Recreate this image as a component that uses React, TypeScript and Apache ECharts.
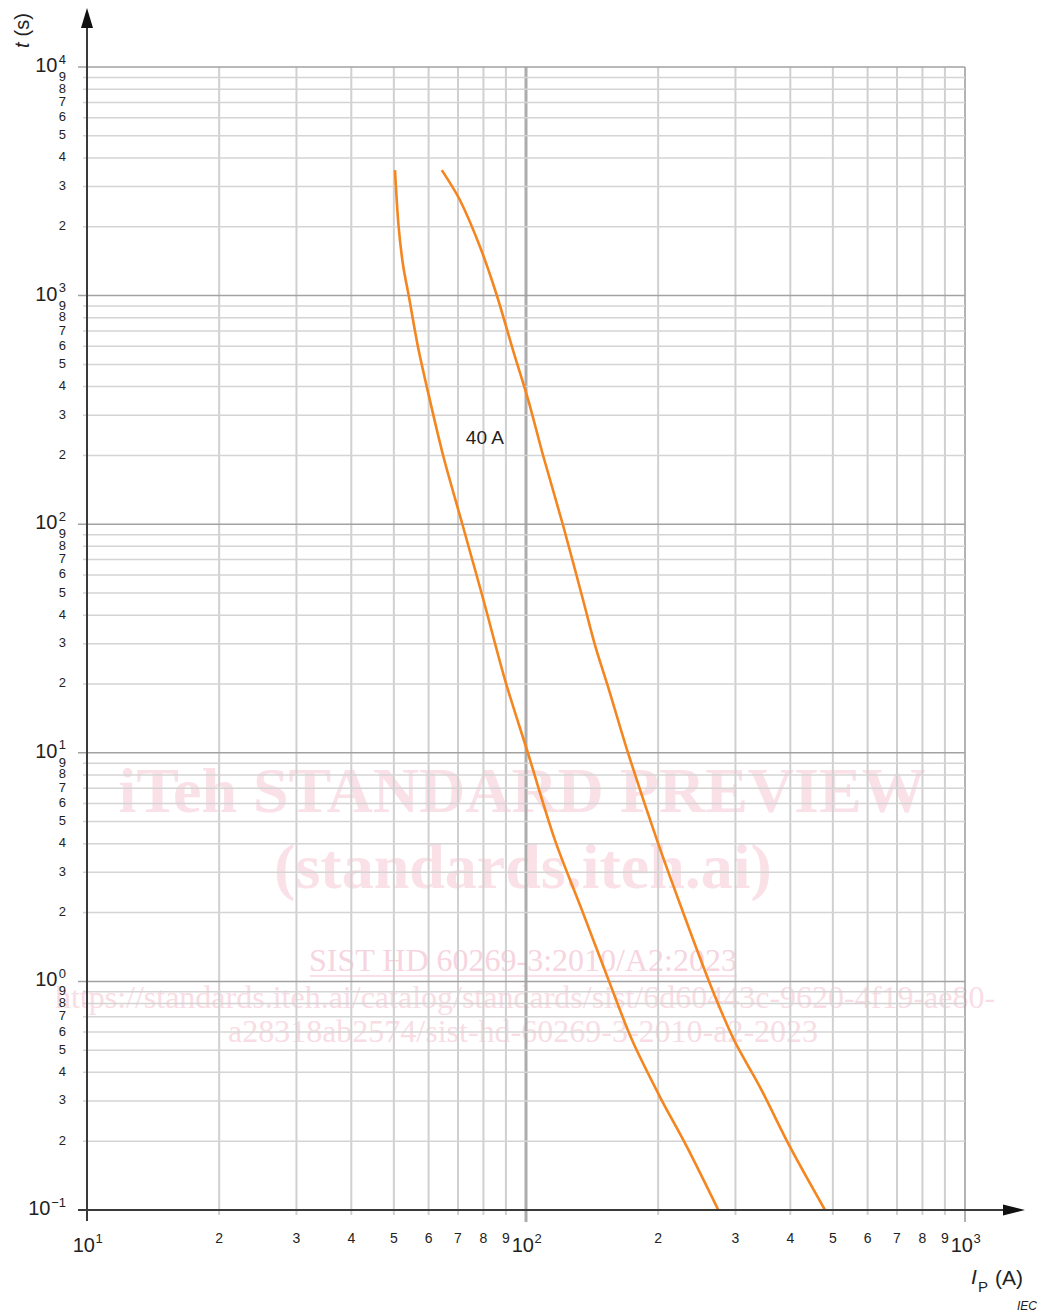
import React, { useEffect, useRef } from 'react';
import * as echarts from 'echarts';

// ---- axis definition ----
const X_DECADE_EXPONENTS = [1, 2, 3];          // 10^1 .. 10^3 A
const Y_DECADE_EXPONENTS = [-1, 0, 1, 2, 3, 4]; // 10^-1 .. 10^4 s
const MINOR_DIGITS = [2, 3, 4, 5, 6, 7, 8, 9];

// ---- curves (prospective current I_P in A, time t in s) ----
const LOWER_I = [50.3, 51.23, 52.47, 54.08, 56.75, 60.4, 64.88, 71.7, 80.0, 89.6, 101.0, 116.4, 134.1, 154.6, 174.4, 202, 232.6, 274.2];
const LOWER_T = [3540, 2036, 1361, 995, 596, 349, 196.8, 99.2, 46.6, 20.8, 9.98, 4.15, 2.05, 1.0, 0.554, 0.312, 0.1887, 0.1];
const UPPER_I = [64.3, 70.7, 78.6, 85.9, 93.4, 101.2, 109.3, 121.4, 134.9, 143.6, 154.6, 170.8, 198.8, 225.5, 261.2, 297.8, 341.2, 399.4, 479.8];
const UPPER_T = [3540, 2619, 1632, 996, 578, 349, 200.8, 99.2, 46.6, 29.6, 18.8, 9.98, 4.15, 2.12, 1.0, 0.554, 0.345, 0.1887, 0.1];

const CURVE_LABEL = '40 A';
const CURVE_LABEL_AT = [80.6, 240];

const Y_TITLE_VAR = 't';
const Y_TITLE_UNIT = '(s)';
const X_TITLE_VAR = 'I';
const X_TITLE_SUB = 'P';
const X_TITLE_UNIT = '(A)';
const SOURCE = 'IEC';

const WATERMARK_TITLE = ['iTeh STANDARD PREVIEW', '(standards.iteh.ai)'];
const WATERMARK_DOC = 'SIST HD 60269-3:2010/A2:2023';
const WATERMARK_URL = [
  'https://standards.iteh.ai/catalog/standards/sist/6d60443c-9620-4f19-ae80-',
  'a28318ab2574/sist-hd-60269-3-2010-a2-2023',
];

const SANS = '"Liberation Sans", Arial, Helvetica, sans-serif';
const SERIF = '"Liberation Serif", "Times New Roman", serif';
const INK = '#222222';

type Tick = { value: number; label: string; major: boolean };

function buildTicks(exps: number[]): Tick[] {
  const out: Tick[] = [];
  exps.forEach((e, k) => {
    const base = Math.pow(10, e);
    out.push({ value: base, label: e < 0 ? '\u2212' + Math.abs(e) : String(e), major: true });
    if (k < exps.length - 1) {
      MINOR_DIGITS.forEach((d) => out.push({ value: d * base, label: String(d), major: false }));
    }
  });
  return out;
}

const X_TICKS = buildTicks(X_DECADE_EXPONENTS);
const Y_TICKS = buildTicks(Y_DECADE_EXPONENTS);
const X_MIN = X_TICKS[0].value;
const X_MAX = X_TICKS[X_TICKS.length - 1].value;
const Y_MIN = Y_TICKS[0].value;
const Y_MAX = Y_TICKS[Y_TICKS.length - 1].value;

function txt(x: number, y: number, text: string, size: number, align: string, valign: string, extra: any = {}) {
  return {
    type: 'text',
    x,
    y,
    style: {
      text,
      fontSize: size,
      fontFamily: SANS,
      fill: INK,
      textFill: INK,
      align,
      verticalAlign: valign,
      textAlign: align,
      textVerticalAlign: valign,
      ...extra,
    },
  };
}

export default function App() {
  const ref = useRef<HTMLDivElement>(null);

  useEffect(() => {
    if (!ref.current) return;
    const chart = echarts.init(ref.current, null, { renderer: 'svg' });

    const xGridSeries = {
      type: 'custom',
      z: 1,
      silent: true,
      data: X_TICKS.map((t) => [t.value, Y_MIN]),
      renderItem: (params: any, api: any) => {
        const t = X_TICKS[params.dataIndex];
        const b = api.coord([t.value, Y_MIN]);
        const top = api.coord([t.value, Y_MAX]);
        const x = b[0];
        const children: any[] = [];
        if (t.value !== X_MIN) {
          const isHundred = t.major && t.value !== X_MAX;
          children.push({
            type: 'line',
            shape: { x1: x, y1: top[1], x2: x, y2: b[1] + (t.major ? 12 : 5) },
            style: {
              stroke: t.major ? (isHundred ? '#acacac' : '#9a9a9a') : '#d0d0d0',
              lineWidth: t.major ? (isHundred ? 3 : 1.5) : 2,
            },
          });
        }
        if (t.major) {
          children.push(txt(x + 8, b[1] + 35, '10', 20, 'right', 'middle'));
          children.push(txt(x + 8.5, b[1] + 28, t.label, 13, 'left', 'middle'));
        } else {
          children.push(txt(x, b[1] + 28, t.label, 14, 'center', 'middle'));
        }
        return { type: 'group', children };
      },
    };

    const yGridSeries = {
      type: 'custom',
      z: 1,
      silent: true,
      data: Y_TICKS.map((t) => [X_MIN, t.value]),
      renderItem: (params: any, api: any) => {
        const t = Y_TICKS[params.dataIndex];
        const l = api.coord([X_MIN, t.value]);
        const r = api.coord([X_MAX, t.value]);
        const y = l[1];
        const children: any[] = [];
        if (t.value !== Y_MIN) {
          children.push({
            type: 'line',
            shape: { x1: l[0] - (t.major ? 9 : 4), y1: y, x2: r[0], y2: y },
            style: { stroke: t.major ? '#a2a2a2' : '#d4d4d4', lineWidth: 1.5 },
          });
        }
        if (t.major) {
          const supW = t.label.length > 1 ? 15 : 8;
          const right = l[0] - 21;
          children.push(txt(right, y - 8, t.label, 13, 'right', 'middle'));
          children.push(txt(right - supW - 0.5, y - 2, '10', 20, 'right', 'middle'));
        } else {
          children.push(txt(l[0] - 21, y - 1, t.label, 13, 'right', 'middle'));
        }
        return { type: 'group', children };
      },
    };

    const axesSeries = {
      type: 'custom',
      z: 3,
      silent: true,
      data: [[X_MIN, Y_MIN]],
      renderItem: (_params: any, api: any) => {
        const o = api.coord([X_MIN, Y_MIN]);
        const tr = api.coord([X_MAX, Y_MAX]);
        const lab = api.coord(CURVE_LABEL_AT);
        const axisColor = '#3a3a3a';
        const yTip = tr[1] - 59;
        const xTip = tr[0] + 60;
        return {
          type: 'group',
          children: [
            { type: 'line', shape: { x1: o[0], y1: o[1] + 11, x2: o[0], y2: yTip + 18 }, style: { stroke: axisColor, lineWidth: 2 } },
            { type: 'polygon', shape: { points: [[o[0], yTip], [o[0] - 6, yTip + 20], [o[0] + 6, yTip + 20]] }, style: { fill: '#111' } },
            { type: 'line', shape: { x1: o[0] - 9, y1: o[1], x2: xTip - 20, y2: o[1] }, style: { stroke: axisColor, lineWidth: 2 } },
            { type: 'polygon', shape: { points: [[xTip, o[1]], [xTip - 22, o[1] - 5.5], [xTip - 22, o[1] + 5.5]] }, style: { fill: '#111' } },
            txt(lab[0], lab[1], CURVE_LABEL, 19, 'center', 'middle'),
          ],
        };
      },
    };

    const curveStyle = { color: '#f4851f', width: 2.6 };

    chart.setOption({
      animation: false,
      grid: { left: 87, right: 77, top: 67, bottom: 105 },
      xAxis: {
        type: 'log',
        logBase: 10,
        min: X_MIN,
        max: X_MAX,
        axisLine: { show: false },
        axisTick: { show: false },
        axisLabel: { show: false },
        splitLine: { show: false },
      },
      yAxis: {
        type: 'log',
        logBase: 10,
        min: Y_MIN,
        max: Y_MAX,
        axisLine: { show: false },
        axisTick: { show: false },
        axisLabel: { show: false },
        splitLine: { show: false },
      },
      graphic: [
        {
          type: 'group',
          z: 0,
          silent: true,
          children: [
            { type: 'text', x: 522, y: 790, style: { text: WATERMARK_TITLE[0], fontSize: 64, fontWeight: 'bold', fontFamily: SERIF, fill: '#fae1e8', textAlign: 'center', textVerticalAlign: 'middle' } },
            { type: 'text', x: 523, y: 866, style: { text: WATERMARK_TITLE[1], fontSize: 64, fontWeight: 'bold', fontFamily: SERIF, fill: '#fae1e8', textAlign: 'center', textVerticalAlign: 'middle' } },
            { type: 'text', x: 523, y: 960, style: { text: WATERMARK_DOC, fontSize: 32, fontFamily: SERIF, fill: '#f7d5df', textAlign: 'center', textVerticalAlign: 'middle' } },
            { type: 'line', shape: { x1: 310, y1: 976, x2: 737, y2: 976 }, style: { stroke: '#f7d5df', lineWidth: 1.5 } },
            { type: 'text', x: 525, y: 997, style: { text: WATERMARK_URL[0], fontSize: 32, fontFamily: SERIF, fill: '#f9dde5', textAlign: 'center', textVerticalAlign: 'middle' } },
            { type: 'text', x: 523, y: 1031, style: { text: WATERMARK_URL[1], fontSize: 32, fontFamily: SERIF, fill: '#f9dde5', textAlign: 'center', textVerticalAlign: 'middle' } },
          ],
        },
        {
          type: 'group',
          x: 22,
          y: 30,
          rotation: Math.PI / 2,
          children: [
            { type: 'text', x: -18, y: 0, style: { text: Y_TITLE_VAR, fontSize: 20, fontStyle: 'italic', fontFamily: SANS, fill: INK, textAlign: 'left', textVerticalAlign: 'middle' } },
            { type: 'text', x: -6.5, y: 0, style: { text: Y_TITLE_UNIT, fontSize: 20, fontFamily: SANS, fill: INK, textAlign: 'left', textVerticalAlign: 'middle' } },
          ],
        },
        { type: 'text', x: 971, y: 1276, style: { text: X_TITLE_VAR, fontSize: 21, fontStyle: 'italic', fontFamily: SANS, fill: INK, textAlign: 'left', textVerticalAlign: 'middle' } },
        { type: 'text', x: 978, y: 1286, style: { text: X_TITLE_SUB, fontSize: 15, fontFamily: SANS, fill: INK, textAlign: 'left', textVerticalAlign: 'middle' } },
        { type: 'text', x: 995, y: 1277, style: { text: X_TITLE_UNIT, fontSize: 21, fontFamily: SANS, fill: INK, textAlign: 'left', textVerticalAlign: 'middle' } },
        { type: 'text', x: 1037, y: 1306, style: { text: SOURCE, fontSize: 12, fontStyle: 'italic', fontFamily: SANS, fill: INK, textAlign: 'right', textVerticalAlign: 'middle' } },
      ],
      series: [
        xGridSeries,
        yGridSeries,
        {
          type: 'line',
          z: 2,
          name: 'lower',
          showSymbol: false,
          symbol: 'none',
          smooth: 0.3,
          lineStyle: curveStyle,
          data: LOWER_I.map((v, i) => [v, LOWER_T[i]]),
        },
        {
          type: 'line',
          z: 2,
          name: 'upper',
          showSymbol: false,
          symbol: 'none',
          smooth: 0.3,
          lineStyle: curveStyle,
          data: UPPER_I.map((v, i) => [v, UPPER_T[i]]),
        },
        axesSeries,
      ],
    });

    return () => chart.dispose();
  }, []);

  return <div ref={ref} style={{ position: 'absolute', left: 0, top: 0, width: 1042, height: 1315, background: '#fff' }} />;
}
